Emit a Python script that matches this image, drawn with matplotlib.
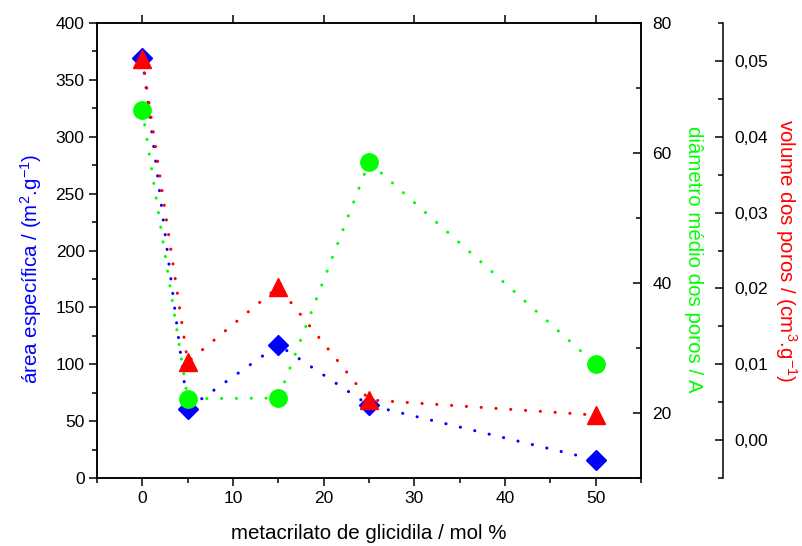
import matplotlib
matplotlib.use("Agg")
import matplotlib.pyplot as plt
from matplotlib.ticker import MultipleLocator, FuncFormatter

plt.rcParams['font.family'] = ['Liberation Sans', 'DejaVu Sans']
plt.rcParams['mathtext.fontset'] = 'custom'
plt.rcParams['mathtext.rm'] = 'Liberation Sans'
plt.rcParams['mathtext.it'] = 'Liberation Sans'
plt.rcParams['mathtext.default'] = 'regular'
plt.rcParams['font.size'] = 12.5

# teor de metacrilato de glicidila (mol %)
gma = [0, 5, 15, 25, 50]
# área específica (m2/g)
area = [369, 61, 117, 64, 16]
# diâmetro médio dos poros (A)
diametro = [66.6, 22.2, 22.3, 58.6, 27.5]
# volume dos poros (cm3/g)
volume = [0.0503, 0.0103, 0.0202, 0.0053, 0.0033]

azul = '#0000ff'
verde = '#00ff00'
vermelho = '#ff0000'
tam_rotulo = 14.8

fig = plt.figure(figsize=(8.03, 5.46), dpi=100)
ax1 = fig.add_axes([0.1208, 0.1245, 0.6775, 0.8334])
ax2 = ax1.twinx()
ax3 = ax1.twinx()

linha = dict(linestyle=(0, (0.05, 4.8)), linewidth=2.2, dash_capstyle='round')

ax1.plot(gma, area, color=azul, **linha)
ax1.plot(gma, area, 'D', color=azul, markersize=10, linestyle='none')
ax2.plot(gma, diametro, color=verde, **linha)
ax2.plot(gma, diametro, 'o', color=verde, markersize=12.5, linestyle='none')
ax3.plot(gma, volume, color=vermelho, **linha)
ax3.plot(gma, volume, '^', color=vermelho, markersize=13, linestyle='none')

# eixo x
ax1.set_xlim(-5, 55)
ax1.xaxis.set_major_locator(MultipleLocator(10))
ax1.xaxis.set_minor_locator(MultipleLocator(5))
ax1.set_xlabel('metacrilato de glicidila / mol %', fontsize=tam_rotulo, labelpad=13)

# eixo esquerdo: área
ax1.set_ylim(0, 400)
ax1.yaxis.set_major_locator(MultipleLocator(50))
ax1.yaxis.set_minor_locator(MultipleLocator(25))
ax1.set_ylabel('área específica / (m$^2$.g$^{-1}$)', color=azul,
               fontsize=tam_rotulo, labelpad=8)
ax1.yaxis.label.set_y(0.46)
ax1.tick_params(axis='both', which='major', direction='out', length=6, width=1.1,
                pad=3)
ax1.tick_params(axis='both', which='minor', direction='out', length=3.5, width=1.1)
ax1.tick_params(axis='x', which='major', top=True, labeltop=False)
ax1.tick_params(axis='x', which='minor', top=False)

# segundo eixo: diâmetro
ax2.set_ylim(10, 80)
ax2.yaxis.set_major_locator(MultipleLocator(20))
ax2.yaxis.set_minor_locator(MultipleLocator(10))
ax2.tick_params(axis='y', which='major', direction='in', length=6, width=1.1, pad=8)
ax2.tick_params(axis='y', which='minor', direction='in', length=3.5, width=1.1)
ax2.set_ylabel('diâmetro médio dos poros / A', color=verde, rotation=270,
               fontsize=tam_rotulo, labelpad=23)
ax2.yaxis.label.set_y(0.48)

# terceiro eixo: volume
ax3.set_ylim(-0.005, 0.055)
ax3.spines['right'].set_position(('axes', 1.1507))
ax3.yaxis.set_major_locator(MultipleLocator(0.01))
ax3.yaxis.set_minor_locator(MultipleLocator(0.005))
ax3.yaxis.set_major_formatter(FuncFormatter(lambda v, p: f'{v:.2f}'.replace('.', ',')))
ax3.tick_params(axis='y', which='major', direction='in', length=6, width=1.1, pad=8)
ax3.tick_params(axis='y', which='minor', direction='in', length=3.5, width=1.1)
ax3.set_ylabel('volume dos poros / (cm$^3$.g$^{-1}$)', color=vermelho,
               rotation=270, fontsize=tam_rotulo, labelpad=22)

for ax in (ax1, ax2, ax3):
    for s in ax.spines.values():
        s.set_linewidth(1.1)
ax3.spines['left'].set_visible(False)
ax3.spines['top'].set_visible(False)
ax3.spines['bottom'].set_visible(False)

fig.savefig('out.png', dpi=100)
